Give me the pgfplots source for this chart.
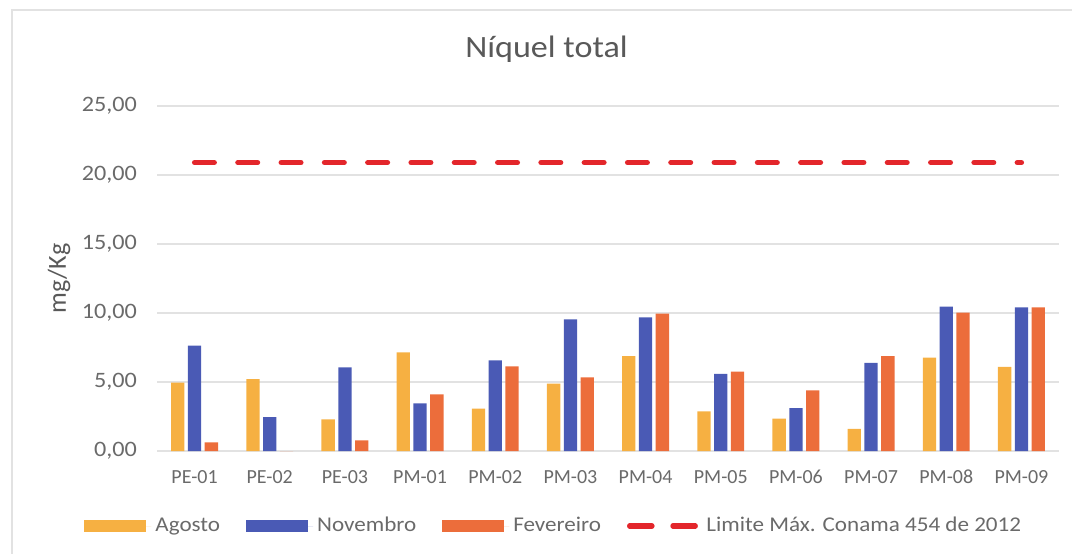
\documentclass[border=0pt]{standalone}
\usepackage{pgfplots}
\pgfplotsset{compat=1.18}
\usepackage{fontspec}
\setmainfont{Carlito}[FakeStretch=1.1]
\newfontfamily\plainfont{Carlito}
\definecolor{ago}{HTML}{F6B042}
\definecolor{nov}{HTML}{4A5AB5}
\definecolor{fev}{HTML}{EC6D3B}
\definecolor{lim}{HTML}{E3262B}
\definecolor{txt}{HTML}{595959}
\definecolor{ticktxt}{HTML}{6A6A6A}
\definecolor{gridc}{HTML}{E2E2E2}
\begin{document}
\begin{tikzpicture}
\useasboundingbox (0,0) rectangle (536pt,276.5pt);
\draw[gridc, line width=0.8pt] (5.85pt,-5pt) -- (5.85pt,271.5pt) -- (545pt,271.5pt);
\begin{axis}[
  at={(78.5pt,51pt)}, anchor=south west,
  scale only axis, width=451pt, height=172.5pt,
  ybar=1.75pt, bar width=6.65pt,
  xmin=-0.5, xmax=11.5, ymin=0, ymax=25,
  xtick={0,...,11},
  xticklabels={PE-01,PE-02,PE-03,PM-01,PM-02,PM-03,PM-04,PM-05,PM-06,PM-07,PM-08,PM-09},
  ytick={0,5,10,15,20,25},
  ymajorgrids, grid style={gridc, line width=0.8pt},
  axis line style={draw=none},
  tick style={draw=none},
  major tick length=0pt,
  /pgf/number format/.cd, fixed, fixed zerofill, precision=2, use comma, assume math mode=true,
  /pgfplots/.cd,
  yticklabel style={font=\fontsize{11}{13}\selectfont, text=ticktxt, xshift=-6.5pt},
  xticklabel style={font=\plainfont\fontsize{10}{12}\selectfont, text=ticktxt, yshift=-6pt},
  title={Níquel total},
  title style={at={(0.4318,1)}, anchor=base, yshift=18.5pt, font=\fontsize{15.5}{18}\selectfont, text=txt},
  ylabel={mg/Kg},
  every axis y label/.style={at={(axis description cs:-0.1086,0.5)}, rotate=90, anchor=center, font=\plainfont\fontsize{13}{15}\selectfont, text=txt},
  legend columns=4,
  legend style={at={(0.441,-0.2174)}, anchor=center, draw=none, fill=none,
    font=\fontsize{10.5}{12}\selectfont, text=ticktxt,
    /tikz/every even column/.append style={column sep=11pt}},
  legend cell align=left,
]
\addplot[fill=ago, draw=none, legend image code/.code={\fill[ago] (0pt,-3pt) rectangle (31pt,3pt); \path (0pt,0pt) -- (33.5pt,0pt);}] coordinates {
(0,4.95) (1,5.2) (2,2.3) (3,7.15) (4,3.07) (5,4.88) (6,6.88) (7,2.88) (8,2.35) (9,1.6) (10,6.77) (11,6.1)};
\addlegendentry{Agosto}
\addplot[fill=nov, draw=none, legend image code/.code={\fill[nov] (0pt,-3pt) rectangle (31pt,3pt); \path (0pt,0pt) -- (33.5pt,0pt);}] coordinates {
(0,7.63) (1,2.46) (2,6.06) (3,3.45) (4,6.57) (5,9.54) (6,9.69) (7,5.58) (8,3.1) (9,6.39) (10,10.47) (11,10.4)};
\addlegendentry{Novembro}
\addplot[fill=fev, draw=none, legend image code/.code={\fill[fev] (0pt,-3pt) rectangle (31pt,3pt); \path (0pt,0pt) -- (33.5pt,0pt);}] coordinates {
(0,0.63) (1,0) (2,0.77) (3,4.1) (4,6.14) (5,5.34) (6,9.95) (7,5.75) (8,4.4) (9,6.87) (10,10.03) (11,10.4)};
\addlegendentry{Fevereiro}
\addplot[sharp plot, lim, line width=2.65pt, line cap=round, dash pattern=on 9.85pt off 11.8pt,
  legend image code/.code={\draw[lim, line width=2.65pt, line cap=round, dash pattern=on 9.85pt off 11.8pt] (1.3pt,0) -- (32.8pt,0); \path (0pt,0pt) -- (35pt,0pt);}] coordinates {
(0,20.9) (11,20.9)};
\addlegendentry{Limite Máx. Conama 454 de 2012}
\end{axis}
\end{tikzpicture}
\end{document}
